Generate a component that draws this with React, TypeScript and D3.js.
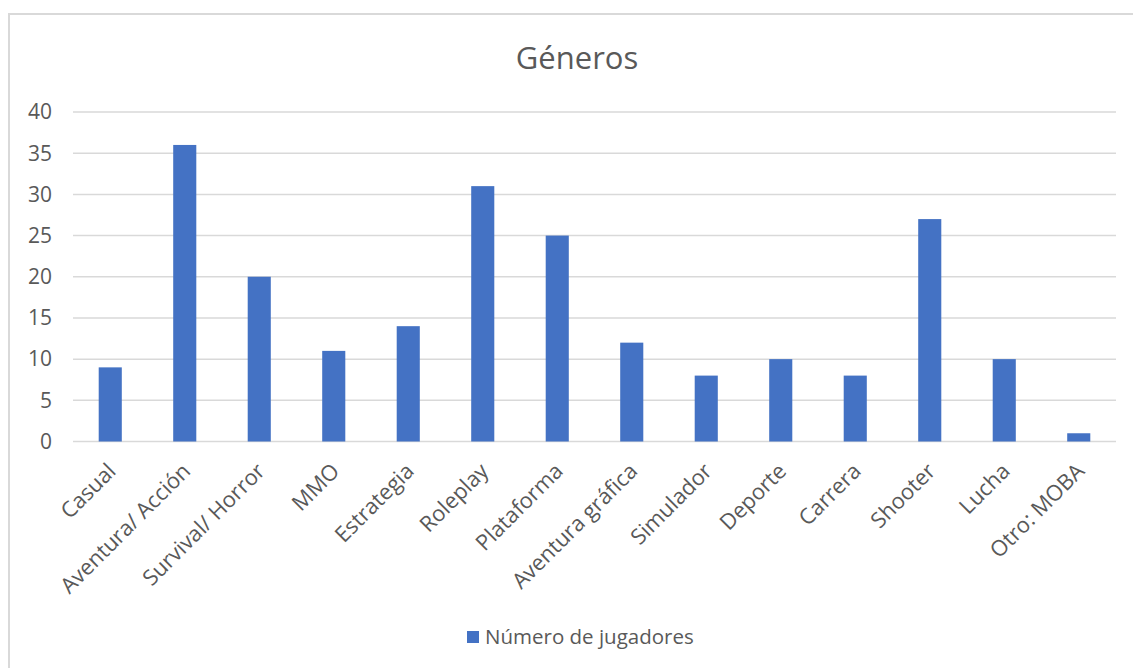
import React, { useEffect } from "react";
import * as d3 from "d3";

const categories = [
  "Casual", "Aventura/ Acción", "Survival/ Horror", "MMO", "Estrategia", "Roleplay",
  "Plataforma", "Aventura gráfica", "Simulador", "Deporte", "Carrera", "Shooter", "Lucha", "Otro: MOBA",
];
const jugadores = [9, 36, 20, 11, 14, 31, 25, 12, 8, 10, 8, 27, 10, 1];
const yTicks = [0, 5, 10, 15, 20, 25, 30, 35, 40];
const title = "Géneros";
const seriesName = "Número de jugadores";

const W = 1133, H = 668;
const FONT = "'Open Sans', 'Noto Sans', sans-serif";
const TXT = "#595959";
const GRID = "#d9d9d9";
const BAR = "#4472c4";

export default function App() {
  useEffect(() => {
    document.body.style.margin = "0";
  }, []);

  const x = d3.scaleBand<string>().domain(categories).range([73, 1116]).paddingInner(0.69).paddingOuter(0.345);
  const y = d3.scaleLinear().domain([0, 40]).range([441.5, 112]);

  return (
    <svg width={W} height={H} style={{ display: "block" }} fontFamily={FONT}>
      <rect x={0} y={0} width={W} height={H} fill="#fff" />
      <rect x={9} y={14} width={W + 20} height={H + 20} fill="none" stroke={GRID} strokeWidth={2} />
      <text x={577} y={69} textAnchor="middle" fontSize={31} fill={TXT}>{title}</text>
      {yTicks.map((t) => (
        <g key={t}>
          <line x1={73} x2={1116} y1={y(t)} y2={y(t)} stroke={GRID} strokeWidth={1.5} />
          <text x={52} y={y(t)} dy="0.35em" textAnchor="end" fontSize={21} fill={TXT}>{t}</text>
        </g>
      ))}
      {categories.map((c, i) => (
        <rect key={c} x={x(c)!} y={y(jugadores[i])} width={x.bandwidth()} height={y(0) - y(jugadores[i])} fill={BAR} />
      ))}
      {categories.map((c) => {
        const cx = x(c)! + x.bandwidth() / 2 + 7;
        const cy = y(0) + 31;
        return (
          <text key={c} x={cx} y={cy} textAnchor="end" fontSize={21.8} fill={TXT} transform={`rotate(-45, ${cx}, ${cy})`}>{c}</text>
        );
      })}
      <rect x={467} y={631} width={12} height={12} fill={BAR} />
      <text x={485} y={637} dy="0.35em" fontSize={20.5} fill={TXT}>{seriesName}</text>
    </svg>
  );
}
